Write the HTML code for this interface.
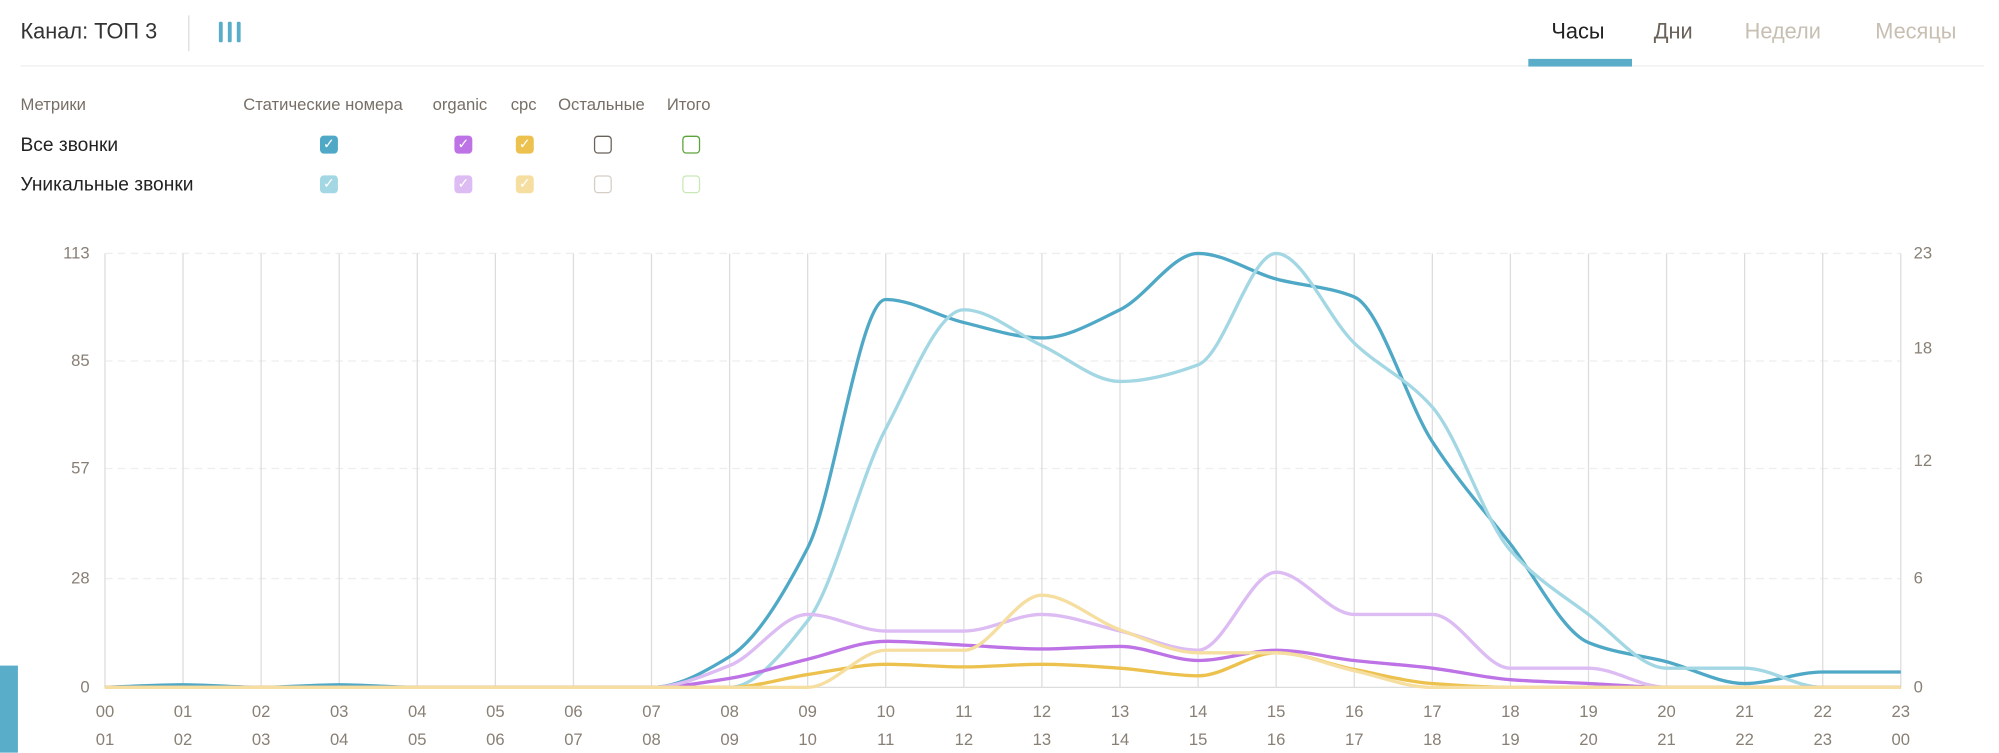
<!DOCTYPE html>
<html><head><meta charset="utf-8">
<style>
html,body{margin:0;padding:0;background:#fff;overflow:hidden;}
body{width:1999px;height:753px;position:relative;}
#wrap{position:absolute;left:0;top:0;width:1562px;height:588px;transform:scale(1.28);transform-origin:0 0;font-family:"Liberation Sans",sans-serif;}
.t{position:absolute;white-space:nowrap;}
.cb{position:absolute;width:14px;height:14px;border-radius:3px;box-sizing:border-box;color:#fff;font-size:11px;line-height:14px;text-align:center;}
</style></head><body>
<div id="wrap">
<div class="t" style="left:16px;top:15px;font-size:17px;color:#333;">Канал: ТОП 3</div>
<div style="position:absolute;left:147px;top:12px;width:1px;height:28px;background:#ddd"></div>
<div style="position:absolute;left:171px;top:17px;width:3px;height:16px;background:#5aadc9;border-radius:1px"></div>
<div style="position:absolute;left:178px;top:17px;width:3px;height:16px;background:#5aadc9;border-radius:1px"></div>
<div style="position:absolute;left:185px;top:17px;width:3px;height:16px;background:#5aadc9;border-radius:1px"></div>
<div style="position:absolute;left:16px;top:51px;width:1534px;height:1px;background:#eee"></div>
<div class="t" style="left:1212px;top:15px;font-size:17px;color:#222;">Часы</div>
<div class="t" style="left:1292px;top:15px;font-size:17px;color:#6b625a;">Дни</div>
<div class="t" style="left:1363px;top:15px;font-size:17px;color:#c8bfb3;">Недели</div>
<div class="t" style="left:1465px;top:15px;font-size:17px;color:#c8bfb3;">Месяцы</div>
<div style="position:absolute;left:1194px;top:46px;width:81px;height:6px;background:#5aadc9"></div>
<div class="t" style="left:16px;top:74px;font-size:13px;color:#776f66;">Метрики</div>
<div class="t" style="left:190px;top:74px;font-size:13px;color:#776f66;">Статические номера</div>
<div class="t" style="left:338px;top:74px;font-size:13px;color:#776f66;">organic</div>
<div class="t" style="left:399px;top:74px;font-size:13px;color:#776f66;">cpc</div>
<div class="t" style="left:436px;top:74px;font-size:13px;color:#776f66;">Остальные</div>
<div class="t" style="left:521px;top:74px;font-size:13px;color:#776f66;">Итого</div>
<div class="t" style="left:16px;top:105px;font-size:15px;color:#222;">Все звонки</div>
<div class="t" style="left:16px;top:136px;font-size:15px;color:#222;">Уникальные звонки</div>
<div class="cb" style="left:250px;top:106px;background:#4fa9c6">✓</div>
<div class="cb" style="left:355px;top:106px;background:#bd72e6">✓</div>
<div class="cb" style="left:403px;top:106px;background:#ecc14e">✓</div>
<div class="cb" style="left:464px;top:106px;border:1.5px solid #6b625a"></div>
<div class="cb" style="left:533px;top:106px;border:1.5px solid #5ca33a"></div>
<div class="cb" style="left:250px;top:137px;background:#a2d7e3">✓</div>
<div class="cb" style="left:355px;top:137px;background:#dcbcf3">✓</div>
<div class="cb" style="left:403px;top:137px;background:#f5dea0">✓</div>
<div class="cb" style="left:464px;top:137px;border:1.5px solid #d6cec5"></div>
<div class="cb" style="left:533px;top:137px;border:1.5px solid #c9e8b8"></div>
<div style="position:absolute;left:0;top:520px;width:14px;height:68px;background:#5aadc9"></div>
<svg id="ch" style="position:absolute;left:0;top:0" width="1562" height="588" font-family="Liberation Sans, sans-serif" font-size="13" fill="#887f75"></svg>
</div>
<script>
var s=document.getElementById('ch'),NS='http://www.w3.org/2000/svg',h='';
var X=function(i){return 82+61*i;};
[198,282,366,452].forEach(function(y){h+='<line x1="82" x2="1485" y1="'+y+'" y2="'+y+'" stroke="#eee" stroke-dasharray="6,4"/>';});
for(var i=0;i<24;i++){h+='<line x1="'+X(i)+'" x2="'+X(i)+'" y1="198" y2="537" stroke="#ddd"/>';
var a=('0'+i).slice(-2),b=('0'+((i+1)%24)).slice(-2);
h+='<text x="'+X(i)+'" y="560" text-anchor="middle">'+a+'</text><text x="'+X(i)+'" y="582" text-anchor="middle">'+b+'</text>';}
h+='<line x1="82" x2="1485" y1="537" y2="537" stroke="#ddd"/>';
[[113,198],[85,282],[57,366],[28,452],[0,537]].forEach(function(p){h+='<text x="70" y="'+(p[1]+4)+'" text-anchor="end">'+p[0]+'</text>';});
[[23,198],[18,272],[12,360],[6,452],[0,537]].forEach(function(p){h+='<text x="1495" y="'+(p[1]+4)+'">'+p[0]+'</text>';});
function mono(ys){var n=ys.length,xs=ys.map(function(_,i){return X(i);}),d=[],m=[];
for(var i=0;i<n-1;i++)d.push((ys[i+1]-ys[i])/61);
m[0]=d[0];m[n-1]=d[n-2];
for(i=1;i<n-1;i++){if(d[i-1]*d[i]<=0)m[i]=0;else{m[i]=2/(1/d[i-1]+1/d[i]);}}
var p='M'+xs[0]+','+ys[0];
for(i=0;i<n-1;i++){var dx=61/3;p+='C'+(xs[i]+dx)+','+(ys[i]+m[i]*dx)+' '+(xs[i+1]-dx)+','+(ys[i+1]-m[i+1]*dx)+' '+xs[i+1]+','+ys[i+1];}
return p;}
var Z=537,S=[
['#4fa9c6',[537,535,537,535,537,537,537,537,513,428,234,252,264,242,198,218,232,345,425,502,517,534,525,525]],
['#a2d7e3',[Z,Z,Z,Z,Z,Z,Z,Z,Z,485,335,242,270,298,285,198,268,318,430,480,522,522,537,537]],
['#bd72e6',[Z,Z,Z,Z,Z,Z,Z,Z,530,515,501,504,507,505,516,508,516,522,531,534,537,537,537,537]],
['#dcbcf3',[Z,Z,Z,Z,Z,Z,Z,Z,520,480,493,493,480,493,508,447,480,480,522,522,537,537,537,537]],
['#ecc14e',[Z,Z,Z,Z,Z,Z,Z,Z,537,527,519,521,519,522,528,510,523,534,537,537,537,537,537,537]],
['#f5dea0',[Z,Z,Z,Z,Z,Z,Z,Z,Z,537,508,508,465,492,510,510,524,537,537,537,537,537,537,537]]];
S.forEach(function(q){h+='<path d="'+mono(q[1])+'" fill="none" stroke="'+q[0]+'" stroke-width="2.6"/>';});
s.innerHTML=h;
</script>
</body></html>
